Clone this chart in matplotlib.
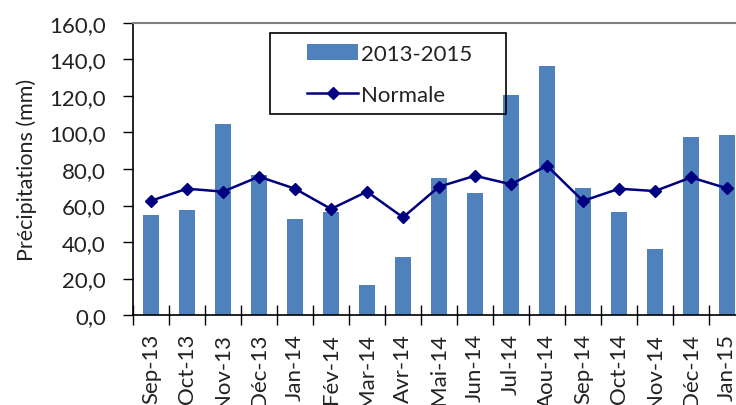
import matplotlib
matplotlib.use("Agg")
import matplotlib.pyplot as plt
from matplotlib.patches import Rectangle
import numpy as np

plt.rcParams['font.family'] = ['Lato', 'DejaVu Sans']

months = ["Sep-13", "Oct-13", "Nov-13", "Déc-13", "Jan-14", "Fév-14", "Mar-14",
          "Avr-14", "Mai-14", "Jun-14", "Jul-14", "Aou-14", "Sep-14", "Oct-14",
          "Nov-14", "Déc-14", "Jan-15"]
precip_2013_2015 = [54.8, 57.5, 104.7, 76.9, 52.6, 56.3, 16.6, 31.9, 74.9, 66.7,
                    120.7, 136.6, 69.4, 56.3, 36.2, 97.4, 98.6]
normale = [62.6, 69.2, 67.6, 75.8, 69.2, 58.1, 67.6, 53.5, 70.3, 76.3,
           71.6, 81.8, 62.5, 69.2, 67.9, 75.4, 69.4]
yticks = [0, 20, 40, 60, 80, 100, 120, 140, 160]

W, H = 736, 406
fig = plt.figure(figsize=(W / 100, H / 100), dpi=100)
left, right_px, top, bottom = 133, 745, 24, 316
ax = fig.add_axes([left / W, 1 - bottom / H, (right_px - left) / W, (bottom - top) / H])

x = np.arange(len(months))
bars = ax.bar(x, precip_2013_2015, width=0.45, color='#4F81BD', label='2013-2015', zorder=2)
line, = ax.plot(x, normale, color='#000080', lw=1.8, marker='D', ms=6.5, label='Normale', zorder=3)

FS = 16
ax.set_xlim(-0.5, len(months) - 0.5)
ax.set_ylim(0, 160)
ax.set_yticks(yticks)
ax.set_yticklabels([f"{v:.1f}".replace('.', ',') for v in yticks], fontsize=FS, color='#222222')
ax.set_xticks(x)
ax.set_xticklabels(months, rotation=90, fontsize=FS, color='#222222', va='top')
ax.set_xticks(np.arange(-0.5, len(months), 1.0), minor=True)
ax.tick_params(axis='x', which='major', length=0, pad=13)
ax.tick_params(axis='x', which='minor', direction='inout', length=14, width=1, color='black')
ax.tick_params(axis='y', which='major', direction='out', length=7, width=1, color='black', pad=12.5)

ax.spines['left'].set_color('black')
ax.spines['bottom'].set_color('black')
ax.spines['top'].set_color('#808080')
ax.spines['top'].set_linewidth(1.5)
ax.spines['right'].set_visible(False)
for s in ['left', 'bottom']:
    ax.spines[s].set_linewidth(1.2)

ax.set_ylabel('Précipitations (mm)', fontsize=15.5, color='#222222', labelpad=9)

leg = ax.legend([bars, line], ['2013-2015', 'Normale'],
                loc='upper left', bbox_to_anchor=(307 / W, 1 - 45 / H),
                bbox_transform=fig.transFigure, frameon=False, borderpad=0,
                borderaxespad=0, fontsize=FS, handlelength=2.3, handletextpad=0.15,
                labelspacing=0.95)
for t in leg.get_texts():
    t.set_color('#222222')

fig.patches.append(Rectangle((270 / W, 1 - 115 / H), (506 - 270) / W, (115 - 34) / H,
                             transform=fig.transFigure, fill=False, edgecolor='black',
                             lw=1.2, zorder=5))

fig.savefig('out.png', dpi=100)
